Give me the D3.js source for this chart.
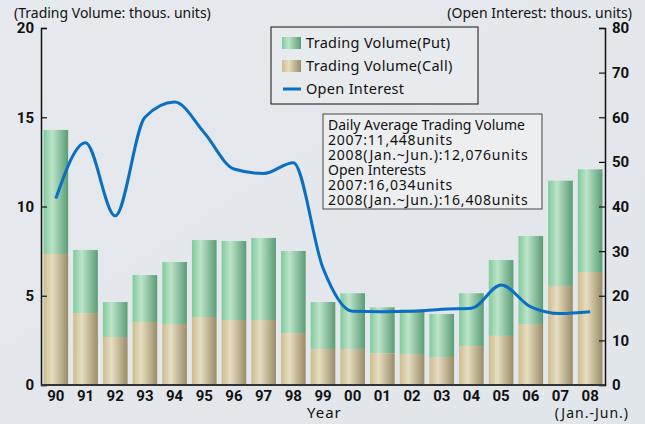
<!DOCTYPE html>
<meta charset="utf-8">
<style>
  body { margin: 0; background: #e4e8ec; }
  svg { display: block; }
  .num { font-family: "Liberation Sans Narrow", "Roboto", sans-serif; font-weight: bold; font-size: 15px; fill: #111; }
  .lbl { font-family: "Noto Sans", "Noto Sans CJK JP", sans-serif; font-size: 14px; fill: #111; }
</style>
<svg width="645" height="424"></svg>
<script src="https://d3js.org/d3.v7.min.js"></script>
<script>
  // data
  var years = ["90","91","92","93","94","95","96","97","98","99","00","01","02","03","04","05","06","07","08"];
  var volTotal = [14.29,7.56,4.65,6.16,6.89,8.12,8.07,8.24,7.51,4.65,5.14,4.35,4.24,3.98,5.14,7.0,8.35,11.45,12.08];
  var volCall = [7.34,4.03,2.69,3.53,3.42,3.81,3.64,3.64,2.91,2.02,2.02,1.78,1.74,1.57,2.18,2.75,3.42,5.55,6.33];
  var openInt = [41.8,54.3,37.9,60,63.4,56.5,48.4,47.4,49.8,26.2,16.5,16.4,16.5,17.0,17.2,22.4,17.5,16.0,16.4];
  var leftTicks = [0,5,10,15,20];
  var rightTicks = [0,10,20,30,40,50,60,70,80];
  var noteLines = ["Daily Average Trading Volume","2007:11,448units","2008(Jan.~Jun.):12,076units",
                   "Open Interests","2007:16,034units","2008(Jan.~Jun.):16,408units"];
  var legendItems = [["Trading Volume(Put)","put"],["Trading Volume(Call)","call"],["Open Interest","line"]];

  var svg = d3.select("svg");
  var x0 = 41, x1 = 605, yTop = 28, yBot = 385;

  // background
  var defs = svg.append("defs");
  var bg = defs.append("linearGradient").attr("id","bg").attr("x1",0).attr("y1",0).attr("x2",1).attr("y2",1);
  bg.append("stop").attr("offset","0%").attr("stop-color","#e6e9ed");
  bg.append("stop").attr("offset","100%").attr("stop-color","#e1e6eb");
  svg.append("rect").attr("width",645).attr("height",424).attr("fill","url(#bg)");

  function grad(id, c) {
    var g = defs.append("linearGradient").attr("id", id);
    g.append("stop").attr("offset","0%").attr("stop-color", c[0]);
    g.append("stop").attr("offset","35%").attr("stop-color", c[1]);
    g.append("stop").attr("offset","100%").attr("stop-color", c[2]);
  }
  grad("put", ["#7fcb9c","#bde4c9","#5a9c76"]);
  grad("call", ["#cdbd8e","#e7ddc1","#9a8c66"]);

  var x = d3.scaleBand().domain(years).range([x0, x1]).paddingInner(0.17).paddingOuter(0.085);
  var yL = d3.scaleLinear().domain([0,20]).range([yBot, yTop]);
  var yR = d3.scaleLinear().domain([0,80]).range([yBot, yTop]);

  // bars
  var bars = svg.append("g");
  bars.selectAll(".put").data(years).enter().append("rect")
    .attr("x", function(d) { return x(d); })
    .attr("y", function(d, i) { return yL(volTotal[i]); })
    .attr("width", x.bandwidth())
    .attr("height", function(d, i) { return yL(volCall[i]) - yL(volTotal[i]); })
    .attr("fill", "url(#put)");
  bars.selectAll(".call").data(years).enter().append("rect")
    .attr("x", function(d) { return x(d); })
    .attr("y", function(d, i) { return yL(volCall[i]); })
    .attr("width", x.bandwidth())
    .attr("height", function(d, i) { return yBot - yL(volCall[i]); })
    .attr("fill", "url(#call)");

  // open interest line
  var line = d3.line()
    .x(function(d, i) { return x(years[i]) + x.bandwidth() / 2; })
    .y(function(d) { return yR(d); })
    .curve(d3.curveMonotoneX);
  svg.append("path").datum(openInt).attr("d", line)
    .attr("fill", "none").attr("stroke", "#0a6fc2").attr("stroke-width", 3);

  // axes
  var gl = svg.append("g").attr("transform", "translate(" + x0 + ",0)")
    .call(d3.axisRight(yL).tickValues(leftTicks).tickSize(6).tickFormat(""));
  var gr = svg.append("g").attr("transform", "translate(" + x1 + ",0)")
    .call(d3.axisLeft(yR).tickValues(rightTicks).tickSize(6).tickFormat(""));
  [gl, gr].forEach(function(g) {
    g.select(".domain").attr("stroke", "#111").attr("stroke-width", 1.5);
    g.selectAll(".tick line").attr("stroke", "#111").attr("stroke-width", 1.2);
  });
  svg.append("line").attr("x1", x0).attr("x2", x1).attr("y1", yBot).attr("y2", yBot)
    .attr("stroke", "#333").attr("stroke-width", 2);

  svg.selectAll(".lt").data(leftTicks).enter().append("text").attr("class","num")
    .attr("x", 34).attr("y", function(d) { return yL(d); }).attr("dy","0.36em")
    .attr("text-anchor","end").text(function(d) { return d; });
  svg.selectAll(".rt").data(rightTicks).enter().append("text").attr("class","num")
    .attr("x", 612).attr("y", function(d) { return yR(d); }).attr("dy","0.36em")
    .text(function(d) { return d; });
  svg.selectAll(".xt").data(years).enter().append("text").attr("class","num")
    .attr("x", function(d) { return x(d) + x.bandwidth() / 2; }).attr("y", 396).attr("dy","0.36em")
    .attr("text-anchor","middle").text(function(d) { return d; });

  svg.append("text").attr("class","lbl").attr("x", 14).attr("y", 13).attr("dy","0.36em")
    .text("(Trading Volume: thous. units)");
  svg.append("text").attr("class","lbl").attr("x", 632).attr("y", 13).attr("dy","0.36em")
    .attr("text-anchor","end").text("(Open Interest: thous. units)");
  svg.append("text").attr("class","lbl").attr("x", 307).attr("y", 413).attr("dy","0.36em")
    .style("font-size","15px").style("letter-spacing","1px").text("Year");
  svg.append("text").attr("class","lbl").attr("x", 629).attr("y", 413).attr("dy","0.36em")
    .attr("text-anchor","end").style("letter-spacing","1px").text("(Jan.-Jun.)");

  // legend
  var lg = svg.append("g");
  lg.append("rect").attr("x", 271).attr("y", 27).attr("width", 207).attr("height", 77)
    .attr("fill", "#e8ebee").attr("stroke", "#111").attr("stroke-width", 1);
  legendItems.forEach(function(it, i) {
    var cy = 43 + i * 23;
    if (it[1] == "line") {
      lg.append("line").attr("x1", 283).attr("x2", 301).attr("y1", cy).attr("y2", cy)
        .attr("stroke", "#0a6fc2").attr("stroke-width", 3);
    } else {
      lg.append("rect").attr("x", 282).attr("y", cy - 6).attr("width", 19).attr("height", 12)
        .attr("fill", "url(#" + it[1] + ")");
    }
    lg.append("text").attr("class","lbl").attr("x", 306).attr("y", cy).attr("dy","0.36em")
      .style("font-size","14.5px").style("letter-spacing","0.3px").text(it[0]);
  });

  // note box
  var nb = svg.append("g");
  nb.append("rect").attr("x", 323).attr("y", 114).attr("width", 219).attr("height", 95)
    .attr("fill", "#eceef0").attr("stroke", "#444").attr("stroke-width", 1);
  nb.selectAll("text").data(noteLines).enter().append("text").attr("class","lbl")
    .attr("x", 328).attr("y", function(d, i) { return 124.5 + i * 15; }).attr("dy","0.36em")
    .style("letter-spacing", function(d) { return /\d/.test(d) ? "0.8px" : "0px"; })
    .text(function(d) { return d; });
</script>
